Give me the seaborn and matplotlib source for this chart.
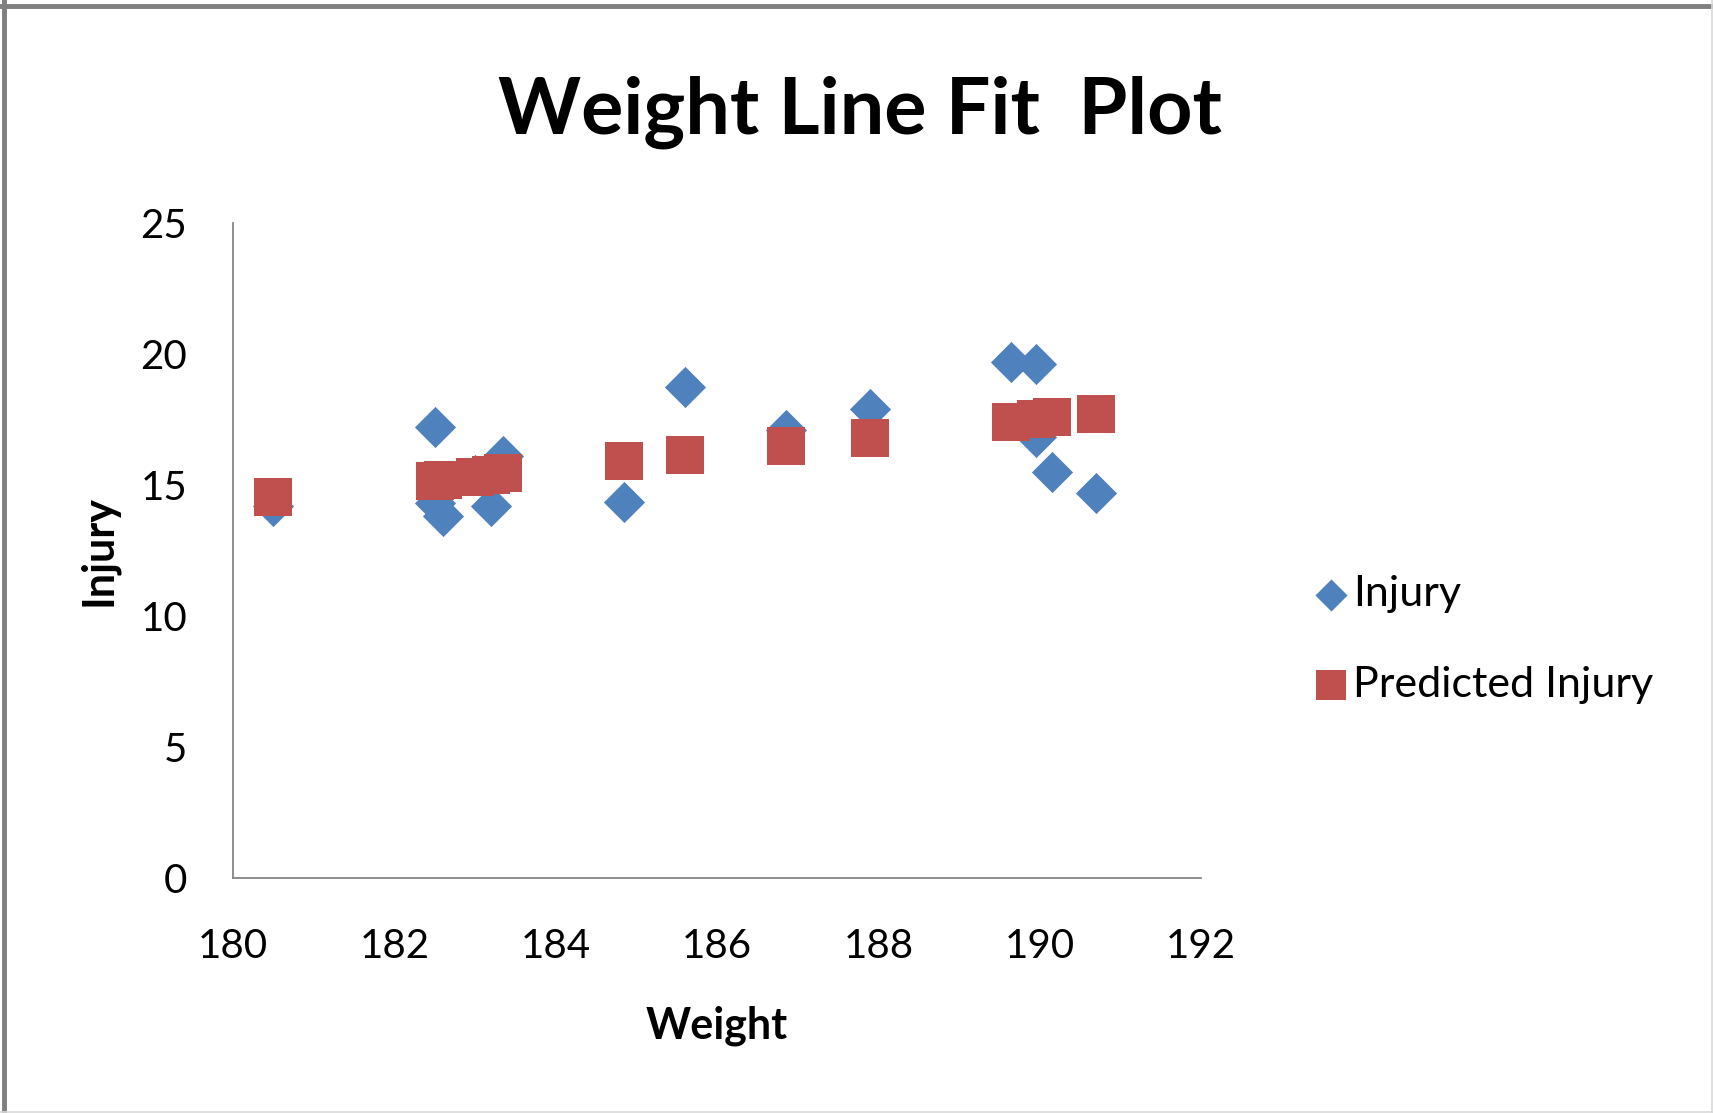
import matplotlib
matplotlib.use("Agg")
import matplotlib.pyplot as plt
import seaborn as sns
import pandas as pd
from matplotlib.lines import Line2D

# values
weight = [180.5, 182.5, 182.5, 182.6, 183.0, 183.2, 183.35, 184.85, 185.6,
          186.85, 187.9, 189.65, 189.95, 189.95, 190.15, 190.7]
injury = [14.2, 17.2, 14.3, 13.8, 15.4, 14.2, 16.1, 14.35, 18.75,
          17.1, 17.9, 19.7, 19.6, 16.85, 15.5, 14.7]
predicted = [14.55, 15.15, 15.15, 15.2, 15.3, 15.4, 15.45, 15.9, 16.15,
             16.5, 16.8, 17.4, 17.5, 17.5, 17.6, 17.7]
x_ticks = [180, 182, 184, 186, 188, 190, 192]
y_ticks = [0, 5, 10, 15, 20, 25]

blue = "#4F81BD"
red = "#C0504D"
axis_gray = "#868686"

sns.set_style("white")
plt.rcParams["font.family"] = ["Lato", "DejaVu Sans"]
plt.rcParams["text.color"] = "black"
plt.rcParams["axes.labelcolor"] = "black"

df = pd.DataFrame({"Weight": weight, "Injury": injury, "Predicted Injury": predicted})

fig = plt.figure(figsize=(17.13, 11.13), dpi=100)
ax = fig.add_axes([233 / 1713, 1 - 878 / 1113, 968 / 1713, 655 / 1113])

sns.scatterplot(data=df, x="Weight", y="Injury", marker="D", s=440,
                color=blue, linewidth=0, ax=ax, label="Injury", zorder=3)
sns.scatterplot(data=df, x="Weight", y="Predicted Injury", marker="s", s=780,
                color=red, linewidth=0, ax=ax, label="Predicted Injury", zorder=4)

ax.set_xlim(180, 192)
ax.set_ylim(0, 25)
ax.set_xticks(x_ticks)
ax.set_yticks(y_ticks)

for side in ["top", "right"]:
    ax.spines[side].set_visible(False)
for side in ["left", "bottom"]:
    ax.spines[side].set_color(axis_gray)
    ax.spines[side].set_linewidth(1.3)

ax.tick_params(axis="both", direction="out", length=11, width=1.3,
               color=axis_gray, labelsize=29, labelcolor="black")
ax.tick_params(axis="x", pad=25)
ax.tick_params(axis="y", pad=22)

ax.set_xlabel("Weight", fontsize=31, fontweight="bold", labelpad=29)
ax.set_ylabel("Injury", fontsize=31, fontweight="bold", labelpad=16)

fig.text(0.502, 1 - 112 / 1113, "Weight Line Fit  Plot", fontsize=57,
         fontweight="bold", ha="center", va="center", color="black")

ax.legend(loc="upper left", bbox_to_anchor=(1293 / 1713, 1 - 558 / 1113),
          bbox_transform=fig.transFigure, frameon=False, fontsize=31,
          markerscale=0.78, handletextpad=0.05, labelspacing=1.22,
          handlelength=0.95, borderaxespad=0, labelcolor="black")

# outer chart border
fig.add_artist(Line2D([0, 1], [1 - 6 / 1113, 1 - 6 / 1113], transform=fig.transFigure,
                      color="#7f7f7f", linewidth=3.5))
fig.add_artist(Line2D([4 / 1713, 4 / 1713], [0, 1], transform=fig.transFigure,
                      color="#7f7f7f", linewidth=3.5))
fig.add_artist(Line2D([1 - 1 / 1713, 1 - 1 / 1713], [0, 1], transform=fig.transFigure,
                      color="#d9d9d9", linewidth=1.2))
fig.add_artist(Line2D([0, 1], [1 / 1113, 1 / 1113], transform=fig.transFigure,
                      color="#d9d9d9", linewidth=1.2))

fig.savefig("out.png", dpi=100)
